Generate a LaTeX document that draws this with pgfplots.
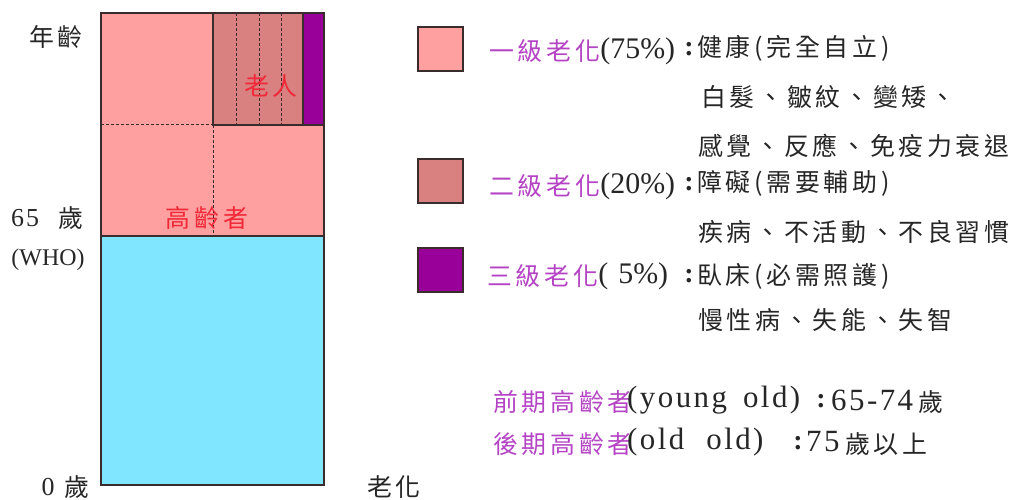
\documentclass[border=0pt]{standalone}
\usepackage{pgfplots}
\pgfplotsset{compat=1.18}
\usepackage{fontspec}
\setmainfont{Liberation Serif}[LetterSpace=6]
\newfontfamily\cjk{Noto Sans CJK TC}[LetterSpace=15]
\newfontfamily\lat{Liberation Serif}[LetterSpace=8]
\newfontfamily\latn{Liberation Serif}

\definecolor{lpink}{HTML}{FFA0A0}
\definecolor{dpink}{HTML}{D98080}
\definecolor{purp}{HTML}{990099}
\definecolor{sky}{HTML}{80E5FF}
\definecolor{redtxt}{HTML}{F02838}
\definecolor{vio}{HTML}{B444C4}
\definecolor{ink}{HTML}{262626}
\definecolor{edge}{HTML}{3A2C2C}

\tikzset{
  zh/.style={font=\fontsize{25}{29}\selectfont\cjk, text=ink, inner sep=0pt},
  la/.style={font=\fontsize{31}{35}\selectfont\lat, text=ink, inner sep=0pt},
  lp/.style={font=\fontsize{30}{34}\selectfont\latn, text=ink, inner sep=0pt},
  ls/.style={font=\fontsize{26}{30}\selectfont\lat, text=ink, inner sep=0pt},
  co/.style={font=\bfseries\fontsize{28}{32}\selectfont\latn, text=ink, inner sep=0pt},
  dsh/.style={edge, line width=1bp, dash pattern=on 3bp off 2bp},
  sol/.style={edge, line width=1.4bp},
}

\begin{document}
\begin{tikzpicture}
\begin{axis}[
    width=1023bp, height=500bp, scale only axis,
    xmin=0, xmax=1023, ymin=0, ymax=500,
    y dir=reverse,
    hide axis, clip=false,
    ]
    % frame of the picture
    \addplot[draw=none] coordinates {(0,0) (1023,500)};

    % blocks of the age column
    \addplot[fill=sky, draw=none] coordinates {(101,236) (324,236) (324,485) (101,485)} --cycle;
    \addplot[fill=lpink, draw=none] coordinates {(101,13) (324,13) (324,236) (101,236)} --cycle;
    \addplot[fill=dpink, draw=none] coordinates {(213,13) (303,13) (303,125) (213,125)} --cycle;
    \addplot[fill=purp, draw=none] coordinates {(303,13) (324,13) (324,125) (303,125)} --cycle;

    % dashed dividers
    \addplot[dsh] coordinates {(101,125) (213,125)};
    \addplot[dsh] coordinates {(213,125) (213,236)};
    \addplot[dsh] coordinates {(236,13) (236,125)};
    \addplot[dsh] coordinates {(259,13) (259,125)};
    \addplot[dsh] coordinates {(281,13) (281,125)};

    % solid borders
    \addplot[sol] coordinates {(213,13) (213,125) (324,125)};
    \addplot[sol] coordinates {(303,13) (303,125)};
    \addplot[sol] coordinates {(101,236) (324,236)};
    \addplot[sol] coordinates {(101,13) (324,13) (324,485) (101,485)} --cycle;

    % legend squares
    \addplot[fill=lpink, draw=edge, line width=1.4bp] coordinates {(418,27) (463,27) (463,71) (418,71)} --cycle;
    \addplot[fill=dpink, draw=edge, line width=1.4bp] coordinates {(418,159) (463,159) (463,203) (418,203)} --cycle;
    \addplot[fill=purp, draw=edge, line width=1.4bp] coordinates {(418,248) (463,248) (463,292) (418,292)} --cycle;

    % labels of the column
    \node[zh] at (axis cs:56,37) {年齡};
    \node[ls] at (axis cs:25,218) {65};
    \node[zh] at (axis cs:71,218) {歲};
    \node[font=\fontsize{24}{28}\selectfont\latn, text=ink, inner sep=0pt] at (axis cs:48,260) {(WHO)};
    \node[ls] at (axis cs:48,487) {0};
    \node[zh] at (axis cs:77,487) {歲};
    \node[zh] at (axis cs:394,487) {老化};
    \node[zh, text=redtxt] at (axis cs:271,86) {老人};
    \node[zh, text=redtxt] at (axis cs:207,218) {高齡者};

    % legend text
    \node[zh, anchor=west, text=vio] (a1) at (axis cs:489,51) {一級老化};
    \node[lp, anchor=west] at (a1.east) {(75\%)};
    \node[co] at (axis cs:689,49) {:};
    \node[zh, anchor=west] at (axis cs:697,48) {健康(完全自立)};
    \node[zh, anchor=west] at (axis cs:701,97) {白髮、皺紋、變矮、};
    \node[zh, anchor=west] at (axis cs:698,146) {感覺、反應、免疫力衰退};

    \node[zh, anchor=west, text=vio] (a2) at (axis cs:489,186) {二級老化};
    \node[lp, anchor=west] at (a2.east) {(20\%)};
    \node[co] at (axis cs:689,184) {:};
    \node[zh, anchor=west] at (axis cs:697,183) {障礙(需要輔助)};
    \node[zh, anchor=west] at (axis cs:698,232) {疾病、不活動、不良習慣};

    \node[zh, anchor=west, text=vio] (a3) at (axis cs:487,276) {三級老化};
    \node[lp, anchor=west] at (a3.east) {(\,\,5\%)};
    \node[co] at (axis cs:689,276) {:};
    \node[zh, anchor=west] at (axis cs:697,276) {臥床(必需照護)};
    \node[zh, anchor=west] at (axis cs:698,320) {慢性病、失能、失智};

    \node[zh, anchor=west, text=vio] at (axis cs:493,402) {前期高齡者};
    \node[la, anchor=west] at (axis cs:627,400) {(young\hspace{16bp}old)};
    \node[co] at (axis cs:821,401) {:};
    \node[la, anchor=west] at (axis cs:831,400) {65-74};
    \node[zh, anchor=west] at (axis cs:918,402) {歲};

    \node[zh, anchor=west, text=vio] at (axis cs:493,444) {後期高齡者};
    \node[la, anchor=west] at (axis cs:627,442) {(old\hspace{22bp}old)};
    \node[co] at (axis cs:798,443) {:};
    \node[la, anchor=west] at (axis cs:806,442) {75};
    \node[zh, anchor=west] at (axis cs:845,444) {歲以上};
\end{axis}
\end{tikzpicture}
\end{document}
